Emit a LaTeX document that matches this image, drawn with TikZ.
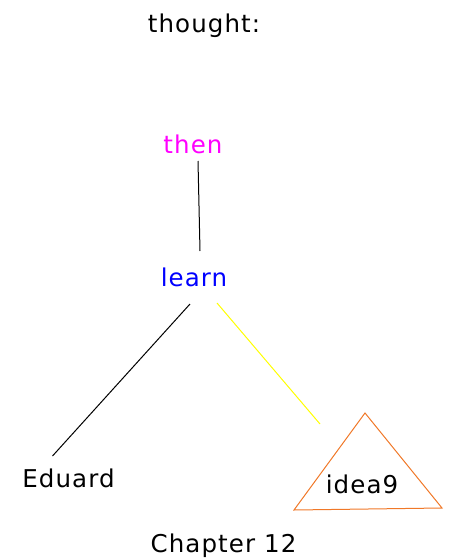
\documentclass[tikz,border=0pt]{standalone}
\usepackage{fontspec}
\setmainfont[LetterSpace=4.5]{DejaVu Sans}
\usetikzlibrary{calc}
\definecolor{magentaT}{RGB}{255,0,255}
\definecolor{blueT}{RGB}{0,0,255}
\definecolor{yellowT}{RGB}{255,255,0}
\definecolor{orangeT}{RGB}{240,120,40}
\begin{document}
\begin{tikzpicture}[x=1pt,y=-1pt,
  lbl/.style={anchor=base,inner sep=0pt,font=\fontsize{24.5}{28}\selectfont},
  edge/.style={line width=1pt}]
\useasboundingbox (0,0) rectangle (451,560);
\node[lbl] (thought) at (204,32) {thought:};
\node[lbl,text=magentaT] (then) at (193,153) {then};
\node[lbl,text=blueT] (learn) at (194,286) {learn};
\node[lbl] (eduard) at (68.5,487) {Eduard};
\node[lbl] (idea) at (362,493) {idea9};
\node[lbl] (chapter) at (223.5,552) {Chapter 12};
\coordinate (tA) at (365,413);
\coordinate (tB) at (294,510);
\coordinate (tC) at (442,508);
\draw[edge,draw=orangeT] (tA) -- (tB) -- (tC) -- cycle;
\draw[edge] ($(then.base)+(5,8)$) -- ($(learn.base)+(6,-35)$);
\draw[edge] ($(learn.base)+(-4,18)$) -- ($(eduard.base)+(-16,-31)$);
\draw[edge,draw=yellowT] ($(learn.base)+(23,17)$) -- ($(idea.base)+(-42,-69)$);
\end{tikzpicture}
\end{document}
